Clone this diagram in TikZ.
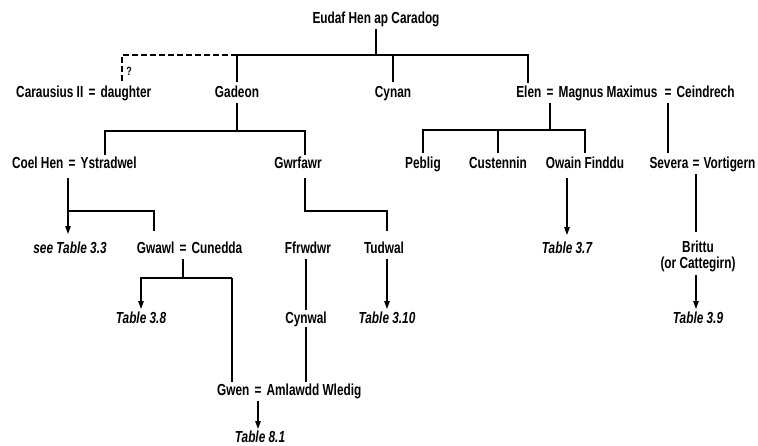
\documentclass[tikz,border=0pt]{standalone}
\usepackage{fontspec}
\usetikzlibrary{arrows.meta}
\newfontfamily\pfont[FakeStretch=0.74]{Liberation Sans}
\begin{document}
\begin{tikzpicture}[x=1pt,y=-1pt,
  line width=1.2pt,
  every node/.style={font=\pfont\bfseries\fontsize{16}{18}\selectfont, anchor=base,
    inner xsep=0pt, inner ysep=3.5pt, text height=10.5pt, text depth=2pt},
  ref/.style={font=\pfont\bfseries\itshape\fontsize{16}{18}\selectfont},
  lname/.style={anchor=base east, xshift=-4pt},
  rname/.style={anchor=base west, xshift=4pt},
  arr/.style={-{Triangle[length=8pt,width=5.5pt]}},
  dashline/.style={dash pattern=on 6pt off 3pt}
]
\useasboundingbox (0,0) rectangle (758,445);

% row 0
\node (eudaf) at (376,23) {Eudaf Hen ap Caradog};
% row 1
\node (eqcd) at (92,97) {=};
\node[lname] (carausius) at (eqcd.base west) {Carausius II};
\node[rname] (daughter) at (eqcd.base east) {daughter};
\node (gadeon) at (237,97) {Gadeon};
\node (cynan) at (393,97) {Cynan};
\node (eqem) at (550,97) {=};
\node[lname] (elen) at (eqem.base west) {Elen};
\node[rname] (magnus) at (eqem.base east) {Magnus Maximus};
\node (eqmc) at (668,97) {=};
\node[rname] (ceindrech) at (eqmc.base east) {Ceindrech};
% row 2
\node (eqcy) at (72,168) {=};
\node[lname] (coel) at (eqcy.base west) {Coel Hen};
\node[rname] (ystrad) at (eqcy.base east) {Ystradwel};
\node (gwrfawr) at (298,168) {Gwrfawr};
\node (peblig) at (423,168) {Peblig};
\node (custennin) at (498,168) {Custennin};
\node (owain) at (585,168) {Owain Finddu};
\node (eqsv) at (696,168) {=};
\node[lname, xshift=1pt] (severa) at (eqsv.base west) {Severa};
\node[rname, xshift=-1pt] (vortigern) at (eqsv.base east) {Vortigern};
% row 3
\node[ref] (seetab) at (70,253) {see Table 3.3};
\node (eqgc) at (183,253) {=};
\node[lname] (gwawl) at (eqgc.base west) {Gwawl};
\node[rname] (cunedda) at (eqgc.base east) {Cunedda};
\node (ffrwdwr) at (308,253) {Ffrwdwr};
\node (tudwal) at (384,253) {Tudwal};
\node[ref] (t37) at (567,253) {Table 3.7};
\node[text depth=0pt] (brittu) at (698,252) {Brittu};
\node[text height=9pt] (catteg) at (698,268) {(or Cattegirn)};
% row 4
\node[ref] (t38) at (141,323) {Table 3.8};
\node (cynwal) at (306,323) {Cynwal};
\node[ref] (t310) at (387,323) {Table 3.10};
\node[ref] (t39) at (698,323) {Table 3.9};
% row 5
\node (eqga) at (258,395) {=};
\node[lname] (gwen) at (eqga.base west) {Gwen};
\node[rname] (amlawdd) at (eqga.base east) {Amlawdd Wledig};
\node[ref] (t81) at (260,442) {Table 8.1};

\node[font=\pfont\bfseries\fontsize{12}{13}\selectfont, text height=8pt] (q) at (129,75) {?};

% top bar
\coordinate (b0) at (377,55);
\draw (eudaf.south) -- (eudaf.south |- b0);
\draw (gadeon.north) -- (gadeon.north |- b0) -- (528,55) -- (528,83);
\draw (cynan.north) -- (cynan.north |- b0);
\draw[dashline] (gadeon.north |- b0) -- (122,55) -- (122,83);

% Elen = Magnus children
\coordinate (b1) at (550,130);
\draw (eqem.south) -- (b1);
\draw (peblig.north) |- (b1) -| (owain.north);
\draw (custennin.north) -- (custennin.north |- b1);
% Magnus = Ceindrech
\draw (eqmc.south) -- (eqmc.south |- severa.north);

% Gadeon children
\coordinate (b2) at (237,131);
\draw (gadeon.south) -- (b2);
\draw (105,155) |- (b2) -| (305,155);

% Coel Hen = Ystradwel
\coordinate (b3) at (68,211);
\draw[arr] (68,178) -- (68,234);
\draw (b3) -| (154,231);

% Gwrfawr
\draw (305,178) |- (387,211) -- (387,231);
% Ffrwdwr line
\draw (306,259) -- (306,310);
\draw (306,327) -- (306,382);

% Owain
\draw[arr] (567,178) -- (567,235);
% Severa = Vortigern
\draw (eqsv.south) -- (696,232);
\draw[arr] (696,275) -- (696,309);

% Gwawl = Cunedda
\draw (eqgc.south) -- (183,278);
\draw[arr] (232,278) -| (141,309);
\draw (232,278) -- (232,382);
% Tudwal
\draw[arr] (387,259) -- (387,309);
% Gwen
\draw[arr] (eqga.south) -- (258,429);
\end{tikzpicture}
\end{document}
